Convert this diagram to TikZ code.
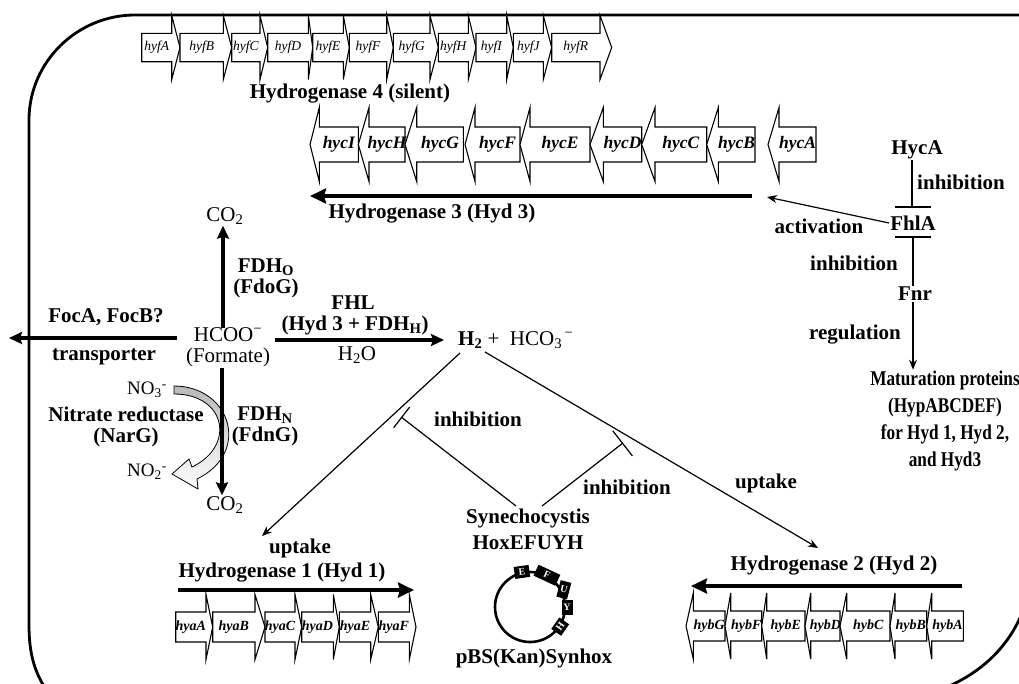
\documentclass[tikz,border=0pt]{standalone}
\usepackage{fontspec}
\setmainfont{Liberation Serif}
\usetikzlibrary{arrows.meta,calc}
\newcommand\genearrow[5]{% name, start x, head base x, tip x, label
  \draw[genebox] ({#2},{\gy-\gb}) -- ({#3},{\gy-\gb}) -- ({#3},{\gy-\gh}) -- ({#4},{\gy}) -- ({#3},{\gy+\gh}) -- ({#3},{\gy+\gb}) -- ({#2},{\gy+\gb}) -- cycle;
  \node[genelabel] (#1) at ({(#2+#3)/2},{\gy}) {#5};}
\newcommand\narrowtxt[1]{\scalebox{0.82}[1]{#1}}
\tikzset{
  wall/.style={line width=2.8pt, line cap=round},
  genebox/.style={draw=black, fill=white, line width=1.1pt, line join=miter},
  genelabel/.style={inner sep=0pt, font=\itshape\fontsize{14}{16}\selectfont},
  lbl/.style={inner sep=1pt, font=\bfseries\fontsize{21}{27}\selectfont, align=center},
  lbltight/.style={inner sep=0pt, font=\bfseries\fontsize{21}{21}\selectfont, align=center},
  txt/.style={inner sep=1pt, font=\fontsize{21}{25}\selectfont, align=center},
  txttight/.style={inner sep=0pt, font=\fontsize{21}{21}\selectfont, align=center},
  bigarrow/.style={line width=4.5pt, -{Stealth[length=16pt,width=15pt,inset=2pt]}},
  midarrow/.style={line width=3.6pt, -{Stealth[length=13pt,width=12pt,inset=2pt]}},
  thinarrow/.style={line width=1.2pt, -{Stealth[length=10pt,width=8pt]}},
  inhib/.style={line width=1.2pt},
  plasbox/.style={fill=black, inner sep=0pt, text=white, font=\bfseries\fontsize{10}{10}\selectfont}
}
\begin{document}
\begin{tikzpicture}[x=1pt,y=-1pt]
\useasboundingbox (0,0) rectangle (1019,683);
% cell wall
\begin{scope}
\clip (0,0) rectangle (1019,683);
\draw[wall] (1040,15) -- (135,15) .. controls (77,15) and (29,62) .. (29,120) -- (29,625) .. controls (29,655) and (35,675) .. (50,695);
\draw[wall] (1032,560) .. controls (1032,630) and (985,690) .. (890,702);
\end{scope}

% Hydrogenase 4 genes
\def\gy{47.5}\def\gb{14.2}\def\gh{32}
\tikzset{genelabel/.append style={font=\itshape\fontsize{13.5}{15}\selectfont}}
\genearrow{hyfA}{141.7}{171.7}{180}{hyfA}
\genearrow{hyfB}{180}{223.3}{231.7}{hyfB}
\genearrow{hyfC}{231.7}{260}{267.7}{hyfC}
\genearrow{hyfD}{267.7}{308.3}{312.7}{hyfD}
\genearrow{hyfE}{312.7}{343.3}{349.3}{hyfE}
\genearrow{hyfF}{349.3}{386.7}{393.3}{hyfF}
\genearrow{hyfG}{393.3}{430}{438.3}{hyfG}
\genearrow{hyfH}{438.3}{468.3}{476}{hyfH}
\genearrow{hyfI}{476}{506.7}{513.3}{hyfI}
\genearrow{hyfJ}{513.3}{543.3}{551.7}{hyfJ}
\genearrow{hyfR}{551.7}{600}{611.7}{hyfR}
\node[lbl] (hyd4) at (350,94) {Hydrogenase 4 (silent)};

% Hydrogenase 3 genes
\def\gy{144.5}\def\gb{17.5}\def\gh{37}
\tikzset{genelabel/.style={inner sep=0pt, font=\bfseries\itshape\fontsize{17.5}{19}\selectfont}}
\genearrow{hycI}{358.3}{319.3}{310}{hycI}
\genearrow{hycH}{405}{369}{358.3}{hycH}
\genearrow{hycG}{463.3}{416.7}{405}{hycG}
\genearrow{hycF}{520}{475}{465}{hycF}
\genearrow{hycE}{590}{530}{520}{hycE}
\genearrow{hycD}{641.7}{603.3}{590}{hycD}
\genearrow{hycC}{706.7}{655}{641.7}{hycC}
\genearrow{hycB}{755}{718.3}{706.7}{hycB}
\genearrow{hycA}{816}{779}{768}{hycA}
\coordinate (h3s) at (752,196);
\coordinate (h3e) at (310,196);
\draw[bigarrow] (h3s) -- (h3e);
\node[lbl] (hyd3) at (432,214) {Hydrogenase 3 (Hyd 3)};

% regulation cascade
\node[lbl] (HycA) at (917,150) {HycA};
\node[lbl] (FhlA) at (913,223) {FhlA};
\node[lbl] (Fnr) at (915,294) {Fnr};
\node[lbl] (mat) at (945,421) {\narrowtxt{Maturation proteins}\\\narrowtxt{(HypABCDEF)}\\\narrowtxt{for Hyd 1, Hyd 2,}\\\narrowtxt{and Hyd3}};
\coordinate (barA) at (912,207);
\draw[inhib] (HycA.south -| barA) -- (barA);
\draw[inhib] ($(barA)+(-17,0)$) -- ($(barA)+(19,0)$);
\node[lbl] (inh1) at (961,182) {inhibition};
\coordinate (barB) at (913,237);
\draw[inhib] (barB) -- (Fnr.north -| barB);
\draw[inhib] ($(barB)+(-18,0)$) -- ($(barB)+(18,0)$);
\node[lbl] (inh2) at (854,263) {inhibition};
\draw[thinarrow] (Fnr.south -| 913,0) -- (mat.north -| 913,0);
\node[lbl] (regl) at (855,335) {regulation};
\coordinate (actE) at (767,197);
\draw[thinarrow] (FhlA.west) -- (actE);
\node[lbl] (act) at (819,226) {activation};

% formate node
\node[txttight] (hcoo) at (228,347) {HCOO\textsuperscript{−}\\(Formate)};
\node[txt] (co2a) at (225,216) {CO\textsubscript{2}};
\node[txt] (co2b) at (225,505) {CO\textsubscript{2}};
\draw[midarrow] (223,328) -- (co2a.south -| 223,0);
\node[lbltight] (fdho) at (266,278) {FDH\textsubscript{O}\\(FdoG)};
\draw[midarrow] (177,338) -- (9,338);
\node[lbl] (foc) at (106,317) {FocA, FocB?};
\node[lbl] (trans) at (104,357) {transporter};

% nitrate reductase hollow arrow
\shade[top color=gray!55, bottom color=white, draw=black, line width=0.8pt]
  (174,386) .. controls (230,386) and (252,452) .. (197,479)
  -- (198,489) -- (172,474) -- (189,459) -- (192,467)
  .. controls (236,446) and (226,394) .. (174,394) -- cycle;
\draw[midarrow] (222,368) -- (co2b.north -| 222,0);
\node[lbltight] (fdhn) at (265,426) {FDH\textsubscript{N}\\(FdnG)};
\node[txt, font=\fontsize{19}{21}\selectfont] (no3) at (147,390) {NO\textsubscript{3}\textsuperscript{-}};
\node[txt, font=\fontsize{19}{21}\selectfont] (no2) at (147,472) {NO\textsubscript{2}\textsuperscript{-}};
\node[lbltight] (nar) at (126,427) {Nitrate reductase\\(NarG)};

% FHL
\draw[midarrow] (275,340) -- (444,340);
\node[lbl] (fhl) at (353,303) {FHL};
\node[lbl] (fhlc) at (355,325) {(Hyd 3 + FDH\textsubscript{H})};
\node[txt] (h2o) at (357,355) {H\textsubscript{2}O};
\node[txt, anchor=base west] (prod) at (457,345) {\textbf{H\textsubscript{2}} +\ \ HCO\textsubscript{3}\textsuperscript{\,−}};

% uptake lines
\coordinate (l1s) at (460,353);
\coordinate (l1e) at (262,536);
\coordinate (l2s) at (485,352);
\coordinate (l2e) at (818,548);
\draw[thinarrow] (l1s) -- (l1e);
\draw[thinarrow] (l2s) -- (l2e);
\node[lbl] (up1) at (300,548) {uptake};
\node[lbl] (up2) at (766,483) {uptake};

% Synechocystis
\node[lbl] (syn) at (528,518) {Synechocystis};
\node[lbl] (hox) at (528,543) {HoxEFUYH};
\coordinate (i1s) at (516,506);
\coordinate (i2s) at (542,506);
\coordinate (bar1) at ($(l1s)!0.33!(l1e)+(7,4)$);
\coordinate (bar2) at ($(l2s)!0.425!(l2e)+(-4,8)$);
\draw[inhib] (i1s) -- (bar1);
\draw[inhib] ($(bar1)!13pt!90:(i1s)$) -- ($(bar1)!-13pt!90:(i1s)$);
\draw[inhib] (i2s) -- (bar2);
\draw[inhib] ($(bar2)!16pt!90:(i2s)$) -- ($(bar2)!-16pt!90:(i2s)$);
\node[lbl] (inh3) at (478,419) {inhibition};
\node[lbl] (inh4) at (627,487) {inhibition};

% plasmid
\coordinate (pc) at (530,607);
\draw[line width=2.6pt] (pc) circle[radius=35];
\node[plasbox, minimum width=15pt, minimum height=12pt, rotate=8] (pE) at ({530+36*cos(103)},{607-36*sin(103)}) {E};
\node[plasbox, minimum width=24pt, minimum height=12pt, rotate=-25] (pF) at ({530+36*cos(62)},{607-36*sin(62)}) {F};
\node[plasbox, minimum width=11pt, minimum height=17pt, rotate=-15] (pU) at ({530+38*cos(27)},{607-38*sin(27)}) {U};
\node[plasbox, minimum width=11pt, minimum height=15pt] (pY) at ({530+37*cos(-1)},{607-37*sin(-1)}) {Y};
\node[plasbox, minimum width=14pt, minimum height=12pt, rotate=55] (pH) at ({530+36*cos(-33)},{607-36*sin(-33)}) {H};
\node[lbl] (pbs) at (534,658) {pBS(Kan)Synhox};

% Hydrogenase 1
\node[lbl] (hyd1) at (282,573) {Hydrogenase 1 (Hyd 1)};
\coordinate (h1s) at (178,590);
\coordinate (h1e) at (414,590);
\draw[bigarrow] (h1s) -- (h1e);
\def\gy{627}\def\gb{15}\def\gh{32.5}
\tikzset{genelabel/.style={inner sep=0pt, font=\bfseries\itshape\fontsize{14}{16}\selectfont}}
\genearrow{hyaA}{175.7}{206}{212.7}{hyaA}
\genearrow{hyaB}{212.7}{255}{265}{hyaB}
\genearrow{hyaC}{265}{295}{301.7}{hyaC}
\genearrow{hyaD}{301.7}{333.3}{339.3}{hyaD}
\genearrow{hyaE}{339.3}{370.7}{378.3}{hyaE}
\genearrow{hyaF}{378.3}{409.3}{416}{hyaF}

% Hydrogenase 2
\node[lbl] (hyd2) at (834,566) {Hydrogenase 2 (Hyd 2)};
\coordinate (h2s) at (962,586);
\coordinate (h2e) at (691,586);
\draw[bigarrow] (h2s) -- (h2e);
\def\gy{626}\def\gb{15}\def\gh{33}
\genearrow{hybG}{725}{693.3}{686}{hybG}
\genearrow{hybF}{761.7}{730.7}{725}{hybF}
\genearrow{hybE}{805}{766.7}{761.7}{hybE}
\genearrow{hybD}{840}{810.7}{805}{hybD}
\genearrow{hybC}{890}{846.7}{840}{hybC}
\genearrow{hybB}{926.7}{895}{890}{hybB}
\genearrow{hybA}{963.3}{931.7}{926.7}{hybA}
\end{tikzpicture}
\end{document}
